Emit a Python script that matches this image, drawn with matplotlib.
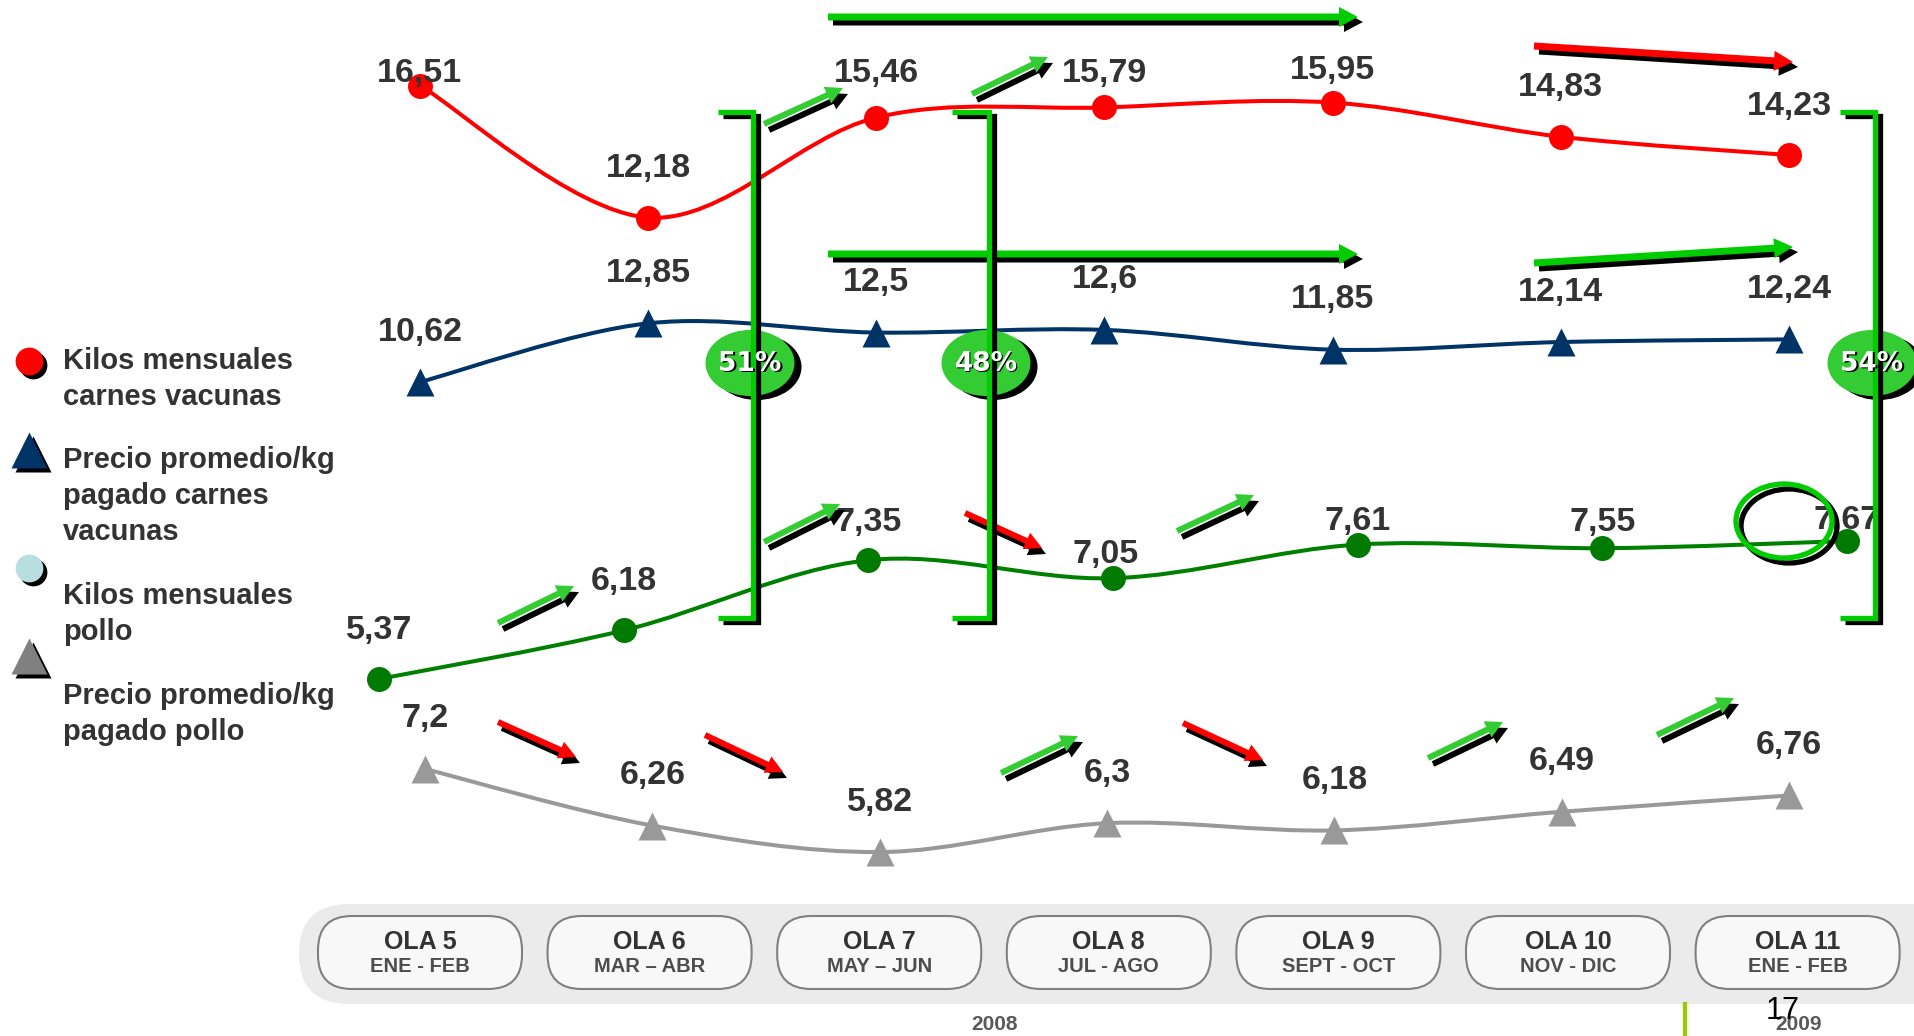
import numpy as np
import matplotlib.pyplot as plt
from matplotlib.path import Path
from matplotlib.patches import PathPatch, Ellipse, FancyBboxPatch, FancyArrow

plt.rcParams['font.family'] = ['Liberation Sans', 'DejaVu Sans']

W, H = 1915, 1036

olas = ['OLA 5', 'OLA 6', 'OLA 7', 'OLA 8', 'OLA 9', 'OLA 10', 'OLA 11']
periodos = ['ENE - FEB', 'MAR – ABR', 'MAY – JUN', 'JUL - AGO',
            'SEPT - OCT', 'NOV - DIC', 'ENE - FEB']
kilos_vacuna = [16.51, 12.18, 15.46, 15.79, 15.95, 14.83, 14.23]
precio_vacuna = [10.62, 12.85, 12.5, 12.6, 11.85, 12.14, 12.24]
kilos_pollo = [5.37, 6.18, 7.35, 7.05, 7.61, 7.55, 7.67]
precio_pollo = [7.2, 6.26, 5.82, 6.3, 6.18, 6.49, 6.76]
penetracion = ['51%', '48%', '54%']

DARK = '#333333'
GREEN = '#00CC00'
LIGHT_GREEN = '#33CC33'

fig = plt.figure(figsize=(W / 100, H / 100), dpi=100)


def overlay(xlim, ylim, z):
    ax = fig.add_axes([0, 0, 1, 1], zorder=z)
    ax.set_xlim(*xlim)
    ax.set_ylim(*ylim)
    ax.set_axis_off()
    ax.patch.set_visible(False)
    return ax


def series_axes(px_first, px_last, py_ref, v_ref, px_per_unit):
    # each series gets its own band of the slide, all sharing the wave index on x
    dx = (px_last - px_first) / 6
    return overlay((-px_first / dx, (W - px_first) / dx),
                   (v_ref - (H - py_ref) / px_per_unit, v_ref + py_ref / px_per_unit), 2)


def smooth_line(ax, ys, color, lw):
    x = np.arange(len(ys), dtype=float)
    y = np.asarray(ys, dtype=float)
    px = np.r_[x[0], x, x[-1]]
    py = np.r_[y[0], y, y[-1]]
    verts = [(x[0], y[0])]
    codes = [Path.MOVETO]
    for i in range(1, len(x)):
        c1 = (px[i] + (px[i + 1] - px[i - 1]) / 6, py[i] + (py[i + 1] - py[i - 1]) / 6)
        c2 = (px[i + 1] - (px[i + 2] - px[i]) / 6, py[i + 1] - (py[i + 2] - py[i]) / 6)
        verts += [c1, c2, (x[i], y[i])]
        codes += [Path.CURVE4] * 3
    ax.add_patch(PathPatch(Path(verts, codes), fill=False, ec=color, lw=lw,
                           capstyle='round', zorder=2))


def draw_series(ax, ys, color, marker, ms, mcolor, lift, shift=None):
    smooth_line(ax, ys, color, 2.9)
    ax.plot(range(len(ys)), ys, ls='none', marker=marker, ms=ms,
            mfc=mcolor, mec='none', zorder=3)
    shift = shift or [0] * len(ys)
    for i, v in enumerate(ys):
        ax.annotate(f'{v:g}'.replace('.', ','), (i, v), xytext=(shift[i], lift[i]),
                    textcoords='offset pixels', ha='center', va='center',
                    fontsize=24.5, fontweight='bold', color=DARK, zorder=4)


ax_kv = series_axes(420, 1789, 85.5, 16.51, 30.5)
draw_series(ax_kv, kilos_vacuna, '#FF0000', 'o', 18, '#FF0000',
            [12, 49, 44, 34, 32, 49, 49])

ax_pv = series_axes(420, 1789, 382, 10.62, 26.3)
draw_series(ax_pv, precio_vacuna, '#003366', '^', 20, '#003366', [50] * 7)

ax_kp = series_axes(379, 1847, 679, 5.37, 60.0)
draw_series(ax_kp, kilos_pollo, '#008000', 'o', 18, '#007A00',
            [48, 49, 38, 24, 23, 26, 20], [0, 0, 0, -7, 0, 0, 0])

ax_pp = series_axes(425, 1789, 769, 7.2, 60.2)
draw_series(ax_pp, precio_pollo, '#999999', '^', 20, '#999999', [50] * 7)

# annotation layer, in pixel units (y grows downwards)
deco = overlay((0, W), (H, 0), 5)


def arrow(p0, p1, color, width=6, head=18, shadow=(5, 5)):
    dx, dy = p1[0] - p0[0], p1[1] - p0[1]
    for (ox, oy), c in ((shadow, 'black'), ((0, 0), color)):
        deco.add_patch(FancyArrow(p0[0] + ox, p0[1] + oy, dx, dy, width=width,
                                  head_width=head, head_length=head * 0.95,
                                  length_includes_head=True, fc=c, ec='none'))


# long trend arrows
arrow((828, 17), (1358, 17), GREEN, width=7, head=20)
arrow((828, 254), (1358, 254), GREEN, width=7, head=20)
arrow((1534, 46), (1793, 62), '#FF0000', width=7, head=20)
arrow((1534, 263), (1793, 247), GREEN, width=7, head=20)

# wave-on-wave arrows
up = [((764, 124), (843, 88)), ((972, 94), (1048, 57)), ((498, 623), (574, 586)),
      ((764, 542), (840, 504)), ((1177, 531), (1254, 495)), ((1001, 773), (1078, 736)),
      ((1428, 758), (1503, 722)), ((1657, 735), (1734, 698))]
down = [((965, 513), (1042, 548)), ((498, 722), (576, 757)), ((705, 735), (783, 772)),
        ((1183, 723), (1263, 760))]
for p0, p1 in up:
    arrow(p0, p1, LIGHT_GREEN, width=6, head=18, shadow=(5, 6))
for p0, p1 in down:
    arrow(p0, p1, '#FF0000', width=6, head=18, shadow=(4, 6))

# share brackets with their percentage badges
brackets = [(718, 753), (952, 989), (1840, 1875)]
for (xl, xv), pct in zip(brackets, penetracion):
    for (ox, oy), c in (((5, 4), 'black'), ((0, 0), GREEN)):
        deco.plot([xl + ox, xv + ox, xv + ox, xl + ox], [112 + oy, 112 + oy, 618 + oy, 618 + oy],
                  color=c, lw=3.8, solid_joinstyle='miter', solid_capstyle='butt')
    deco.add_patch(Ellipse((xv + 4, 367), 89, 66, fc='black', ec='none'))
    deco.add_patch(Ellipse((xv - 3, 363), 89, 66, fc=LIGHT_GREEN, ec='none'))
    deco.text(xv - 1.5, 365.5, pct, ha='center', va='center', fontsize=19,
              fontweight='bold', color='black', family='DejaVu Sans')
    deco.text(xv - 3, 364, pct, ha='center', va='center', fontsize=19,
              fontweight='bold', color='white', family='DejaVu Sans')

# ring around the last chicken volume reading
deco.add_patch(Ellipse((1789, 526), 96, 74, fill=False, ec='black', lw=3.8))
deco.add_patch(Ellipse((1784, 521), 96, 74, fill=False, ec=GREEN, lw=3.8))

# legend
legend = [('o', '#FF0000', 20, 361, 'Kilos mensuales\ncarnes vacunas', 379),
          ('^', '#003366', 26, 450, 'Precio promedio/kg\npagado carnes\nvacunas', 496),
          ('o', '#B8DEE0', 20, 568, 'Kilos mensuales\npollo', 614),
          ('^', '#808080', 26, 656, 'Precio promedio/kg\npagado pollo', 714)]
for mk, c, ms, ym, label, yt in legend:
    deco.plot([33], [ym + 4], marker=mk, ms=ms, mfc='black', mec='none')
    deco.plot([29], [ym], marker=mk, ms=ms, mfc=c, mec='none')
    deco.text(63, yt, label, ha='left', va='center', fontsize=21,
              fontweight='bold', color=DARK, linespacing=1.36)

# wave timeline strip
deco.add_patch(FancyBboxPatch((299, 904), 1700, 100,
                              boxstyle='round,pad=0,rounding_size=50',
                              fc='#EBEBEB', ec='none', zorder=0))
for i, (ola, per) in enumerate(zip(olas, periodos)):
    cx = 420 + i * 229.6
    deco.add_patch(FancyBboxPatch((cx - 102, 916), 204, 73,
                                  boxstyle='round,pad=0,rounding_size=34',
                                  fc='#F8F8F8', ec='#808080', lw=1.5, zorder=1))
    deco.text(cx, 942, ola, ha='center', va='center', fontsize=18,
              fontweight='bold', color=DARK)
    deco.text(cx, 967, per, ha='center', va='center', fontsize=14.5,
              fontweight='bold', color='#4D4D4D')

deco.text(995, 1024, '2008', ha='center', va='center', fontsize=15,
          fontweight='bold', color='#595959')
deco.text(1799, 1024, '2009', ha='center', va='center', fontsize=15,
          fontweight='bold', color='#595959')
deco.text(1783, 1011, '17', ha='center', va='center', fontsize=22, color='black')
deco.plot([1685, 1685], [1004, 1036], color='#99CC00', lw=3)

fig.savefig('out.png', dpi=100)
